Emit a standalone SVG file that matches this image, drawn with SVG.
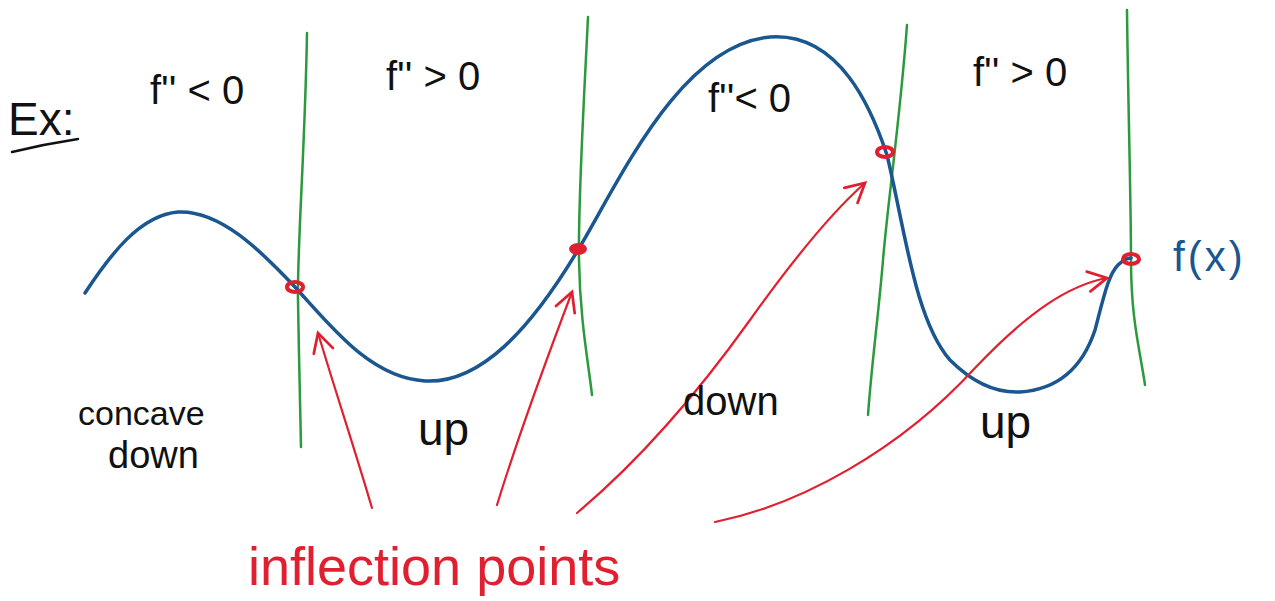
<svg xmlns="http://www.w3.org/2000/svg" width="1275" height="601" viewBox="0 0 1275 601">
<style>
.txt{font-family:"Liberation Sans","DejaVu Sans",sans-serif;fill:#111}
.red{fill:#e02030}
.blue{fill:#1a5690}
.g{fill:none;stroke:#2b9a3c;stroke-width:2.5;stroke-linecap:round}
.curve{fill:none;stroke:#1a5690;stroke-width:3.5;stroke-linecap:round}
.arr{fill:none;stroke:#e02030;stroke-width:2.2;stroke-linecap:round;marker-end:url(#ah)}
.pt{fill:none;stroke:#e02030;stroke-width:4}
</style>
<defs>
<marker id="ah" markerUnits="userSpaceOnUse" markerWidth="30" markerHeight="30" viewBox="-20 -12 24 24" refX="0" refY="0" orient="auto">
<path d="M-15,-8 L0,0 L-15,8" fill="none" stroke="#e02030" stroke-width="2.2" stroke-linecap="round"/>
</marker>
</defs>
<rect width="1275" height="601" fill="#fff"/>
<g id="dividers">
<path class="g" d="M307,33 C305,150 297,250 298,300 S300,420 301,447"/>
<path class="g" d="M588,17 C584,100 578,200 579,260 S588,360 592,395"/>
<path class="g" d="M907,25 C900,120 888,200 883,260 S872,360 868,415"/>
<path class="g" d="M1127,10 C1128,100 1131,200 1131,260 S1140,350 1145,385"/>
</g>
<g id="function-curve">
<path class="curve" d="M85,293 C110,255 140,215 178,212 C220,210 260,250 295,287 C330,325 370,378 425,381 C480,384 530,330 578,250 C620,180 680,45 770,37 C840,32 872,110 887,155 C905,230 915,320 950,360 C975,385 1000,393 1020,392 C1050,390 1080,375 1095,330 C1103,300 1108,275 1118,265 C1123,260 1128,258 1131,258"/>
<text class="txt blue" x="1173" y="271" font-size="42" letter-spacing="3">f(x)</text>
</g>
<g id="inflection-points">
<ellipse class="pt" cx="295" cy="287" rx="8" ry="5"/>
<ellipse cx="578" cy="249" rx="9" ry="6" fill="#e02030"/>
<ellipse class="pt" cx="885" cy="152" rx="8" ry="5"/>
<ellipse class="pt" cx="1131" cy="259" rx="8" ry="5"/>
</g>
<g id="connectors">
<path class="arr" d="M372,508 C355,450 335,390 318,333"/>
<path class="arr" d="M497,505 C520,430 550,350 572,292"/>
<path class="arr" d="M577,513 C640,460 700,390 750,320 C800,250 840,205 865,183"/>
<path class="arr" d="M715,522 C800,505 900,450 975,368 C1030,310 1070,285 1107,278"/>
</g>
<g id="title">
<text class="txt" x="8" y="135" font-size="46">Ex:</text>
<path d="M12,152 Q45,144 78,139" fill="none" stroke="#111" stroke-width="2.5" stroke-linecap="round"/>
</g>
<g id="region-1">
<text class="txt" x="150" y="104" font-size="40">f'' &lt; 0</text>
<text class="txt" x="78" y="425" font-size="34">concave</text>
<text class="txt" x="108" y="468" font-size="38">down</text>
</g>
<g id="region-2">
<text class="txt" x="386" y="90" font-size="40">f'' &gt; 0</text>
<text class="txt" x="418" y="445" font-size="46">up</text>
</g>
<g id="region-3">
<text class="txt" x="708" y="112" font-size="40">f''&lt; 0</text>
<text class="txt" x="683" y="415" font-size="40">down</text>
</g>
<g id="region-4">
<text class="txt" x="973" y="86" font-size="40">f'' &gt; 0</text>
<text class="txt" x="980" y="438" font-size="46">up</text>
</g>
<g id="label">
<text class="txt red" x="248" y="585" font-size="54">inflection points</text>
</g>
</svg>
